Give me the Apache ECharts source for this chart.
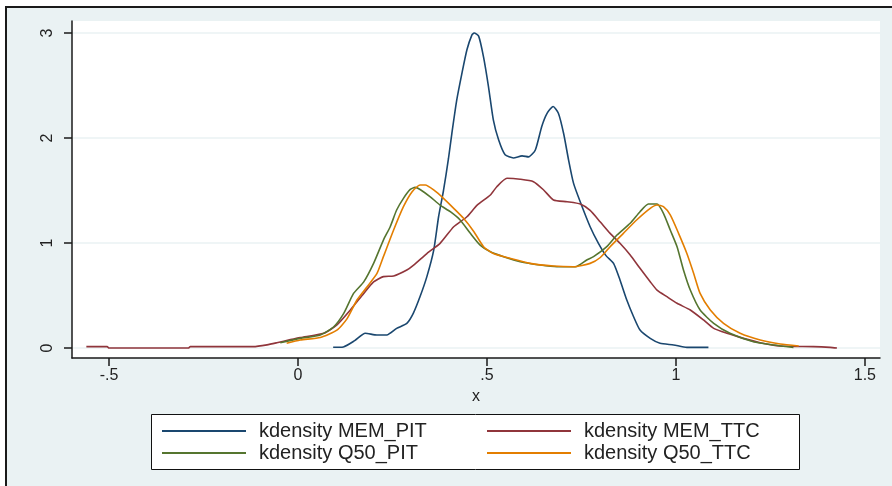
<!DOCTYPE html>
<html>
<head>
<meta charset="utf-8">
<script src="https://cdn.jsdelivr.net/npm/echarts@6/dist/echarts.min.js"></script>
<style>
html,body{margin:0;padding:0;background:#fff;}
#frame{position:absolute;left:5px;top:6px;width:887px;height:480px;box-sizing:border-box;border-left:2px solid #1a1a1a;border-top:2px solid #1a1a1a;background:#EAF2F3;}
#chart{position:absolute;left:0;top:0;width:892px;height:486px;}
</style>
</head>
<body>
<div id="frame"></div>
<div id="chart"></div>
<script>
// Data
const memPitX = [0.093,0.12,0.15,0.178,0.209,0.235,0.261,0.288,0.305,0.323,0.341,0.359,0.372,0.385,0.398,0.407,0.42,0.434,0.447,0.46,0.466,0.478,0.491,0.504,0.517,0.531,0.548,0.57,0.593,0.61,0.628,0.645,0.659,0.675,0.689,0.703,0.716,0.729,0.747,0.773,0.795,0.815,0.835,0.852,0.870,0.888,0.905,0.932,0.958,0.994,1.029,1.086];
const memPitY = [0.007,0.01,0.07,0.14,0.124,0.124,0.187,0.235,0.33,0.49,0.68,0.93,1.25,1.5,1.8,2.04,2.36,2.62,2.84,2.98,3.0,2.97,2.77,2.49,2.17,1.98,1.84,1.81,1.83,1.82,1.886,2.11,2.235,2.30,2.235,2.04,1.79,1.57,1.39,1.155,0.997,0.88,0.806,0.648,0.457,0.298,0.171,0.092,0.045,0.029,0.006,0.006];

const memTtcX = [-0.56,-0.505,-0.5,-0.29,-0.285,-0.118,-0.082,-0.056,-0.02,0.006,0.068,0.103,0.138,0.174,0.2,0.226,0.253,0.288,0.306,0.341,0.376,0.412,0.447,0.474,0.509,0.526,0.553,0.588,0.623,0.65,0.676,0.712,0.747,0.773,0.8,0.826,0.852,0.879,0.905,0.932,0.95,0.976,1.003,1.038,1.073,1.1,1.135,1.179,1.223,1.276,1.364,1.408,1.426];
const memTtcY = [0.013,0.013,0,0,0.013,0.013,0.03,0.05,0.08,0.1,0.14,0.22,0.36,0.52,0.63,0.68,0.686,0.743,0.79,0.90,0.997,1.155,1.25,1.36,1.457,1.536,1.616,1.607,1.584,1.505,1.41,1.393,1.371,1.31,1.2,1.092,0.997,0.886,0.759,0.631,0.552,0.489,0.426,0.362,0.267,0.187,0.14,0.092,0.05,0.019,0.013,0.006,0];

const q50PitX = [-0.047,0.006,0.059,0.094,0.121,0.147,0.174,0.2,0.226,0.244,0.261,0.279,0.297,0.31,0.323,0.35,0.376,0.403,0.429,0.456,0.482,0.509,0.544,0.588,0.641,0.685,0.734,0.764,0.782,0.817,0.844,0.879,0.905,0.927,0.95,0.967,0.985,1.003,1.02,1.038,1.064,1.1,1.143,1.205,1.258,1.311];
const q50PitY = [0.05,0.092,0.124,0.2,0.33,0.52,0.63,0.806,1.028,1.155,1.314,1.425,1.51,1.53,1.51,1.44,1.36,1.298,1.219,1.092,0.98,0.917,0.87,0.822,0.79,0.774,0.774,0.838,0.87,0.965,1.076,1.188,1.298,1.371,1.371,1.283,1.124,0.965,0.743,0.552,0.362,0.235,0.14,0.06,0.029,0.006];

const q50TtcX = [-0.03,0.006,0.059,0.103,0.13,0.156,0.183,0.209,0.226,0.253,0.279,0.302,0.323,0.337,0.359,0.385,0.412,0.438,0.465,0.491,0.517,0.561,0.614,0.676,0.729,0.773,0.8,0.826,0.861,0.896,0.932,0.95,0.967,0.985,1.007,1.029,1.047,1.064,1.091,1.126,1.17,1.223,1.276,1.325];
const q50TtcY = [0.045,0.076,0.1,0.17,0.28,0.457,0.584,0.71,0.87,1.124,1.346,1.489,1.552,1.552,1.505,1.425,1.33,1.235,1.11,0.965,0.9,0.854,0.806,0.781,0.774,0.806,0.862,0.965,1.092,1.219,1.33,1.362,1.346,1.267,1.092,0.9,0.71,0.52,0.362,0.235,0.14,0.076,0.038,0.019];

const seriesNames = ['kdensity MEM_PIT','kdensity MEM_TTC','kdensity Q50_PIT','kdensity Q50_TTC'];
const seriesColors = ['#1A476F','#90353B','#55752F','#E37E00'];
const xTicks = [-0.5, 0, 0.5, 1, 1.5];
const xTickLabels = ['-.5','0','.5','1','1.5'];
const yTicks = [0, 1, 2, 3];
const yTickLabels = ['0','1','2','3'];
const xAxisTitle = 'x';

function zip(xs, ys){ return xs.map((x,i)=>[x, ys[i]]); }
const allData = [zip(memPitX,memPitY), zip(memTtcX,memTtcY), zip(q50PitX,q50PitY), zip(q50TtcX,q50TtcY)];

const chart = echarts.init(document.getElementById('chart'), null, {renderer:'canvas'});
const font = 'Liberation Sans, Arial, sans-serif';
const axisColor = '#1a1a1a';

const option = {
  animation: false,
  backgroundColor: 'transparent',
  graphic: [{
    type: 'rect', z: -10, silent: true,
    shape: {x: 151.5, y: 414.5, width: 648, height: 55},
    style: {fill: '#fff', stroke: '#111', lineWidth: 1}
  }],
  grid: {left: 72, right: 12, top: 21, bottom: 128, show: true, backgroundColor: '#fff', borderWidth: 0},
  xAxis: {
    type: 'value', min: -0.598, max: 1.54,
    name: xAxisTitle, nameLocation: 'middle', nameGap: 28,
    nameTextStyle: {fontFamily: font, fontSize: 16, color: '#222'},
    axisLine: {show: true, onZero: false, lineStyle: {color: axisColor, width: 1.5}},
    axisTick: {show: true, length: 8, customValues: xTicks, lineStyle: {color: axisColor, width: 1.5}},
    axisLabel: {customValues: xTicks, margin: 10, fontFamily: font, fontSize: 16, color: '#222',
      formatter: v => { const i = xTicks.findIndex(t => Math.abs(t - v) < 1e-9); return i >= 0 ? xTickLabels[i] : ''; }},
    splitLine: {show: false}
  },
  yAxis: {
    type: 'value', min: -0.095, max: 3.114,
    axisLine: {show: true, onZero: false, lineStyle: {color: axisColor, width: 1.5}},
    axisTick: {show: true, length: 8, customValues: yTicks, lineStyle: {color: axisColor, width: 1.5}},
    axisLabel: {customValues: yTicks, rotate: 90, margin: 16, fontFamily: font, fontSize: 16, color: '#222',
      formatter: v => { const i = yTicks.findIndex(t => Math.abs(t - v) < 1e-9); return i >= 0 ? yTickLabels[i] : ''; }},
    splitLine: {show: true, lineStyle: {color: '#EAF2F3', width: 1.5}}
  },
  legend: [
    {data: [seriesNames[0], seriesNames[2]], orient: 'vertical', left: 162, top: 420, padding: 0, itemGap: 0,
     icon: 'rect', itemWidth: 84, itemHeight: 2,
     textStyle: {fontFamily: font, fontSize: 20, color: '#222', lineHeight: 22, padding: [0,0,0,8]}},
    {data: [seriesNames[1], seriesNames[3]], orient: 'vertical', left: 487, top: 420, padding: 0, itemGap: 0,
     icon: 'rect', itemWidth: 84, itemHeight: 2,
     textStyle: {fontFamily: font, fontSize: 20, color: '#222', lineHeight: 22, padding: [0,0,0,8]}}
  ],
  series: seriesNames.map((n, i) => ({
    name: n, type: 'line', data: allData[i], symbol: 'none', showSymbol: false, smooth: 0.2,
    lineStyle: {color: seriesColors[i], width: 1.6}, itemStyle: {color: seriesColors[i]}
  }))
};
chart.setOption(option);
</script>
</body>
</html>
